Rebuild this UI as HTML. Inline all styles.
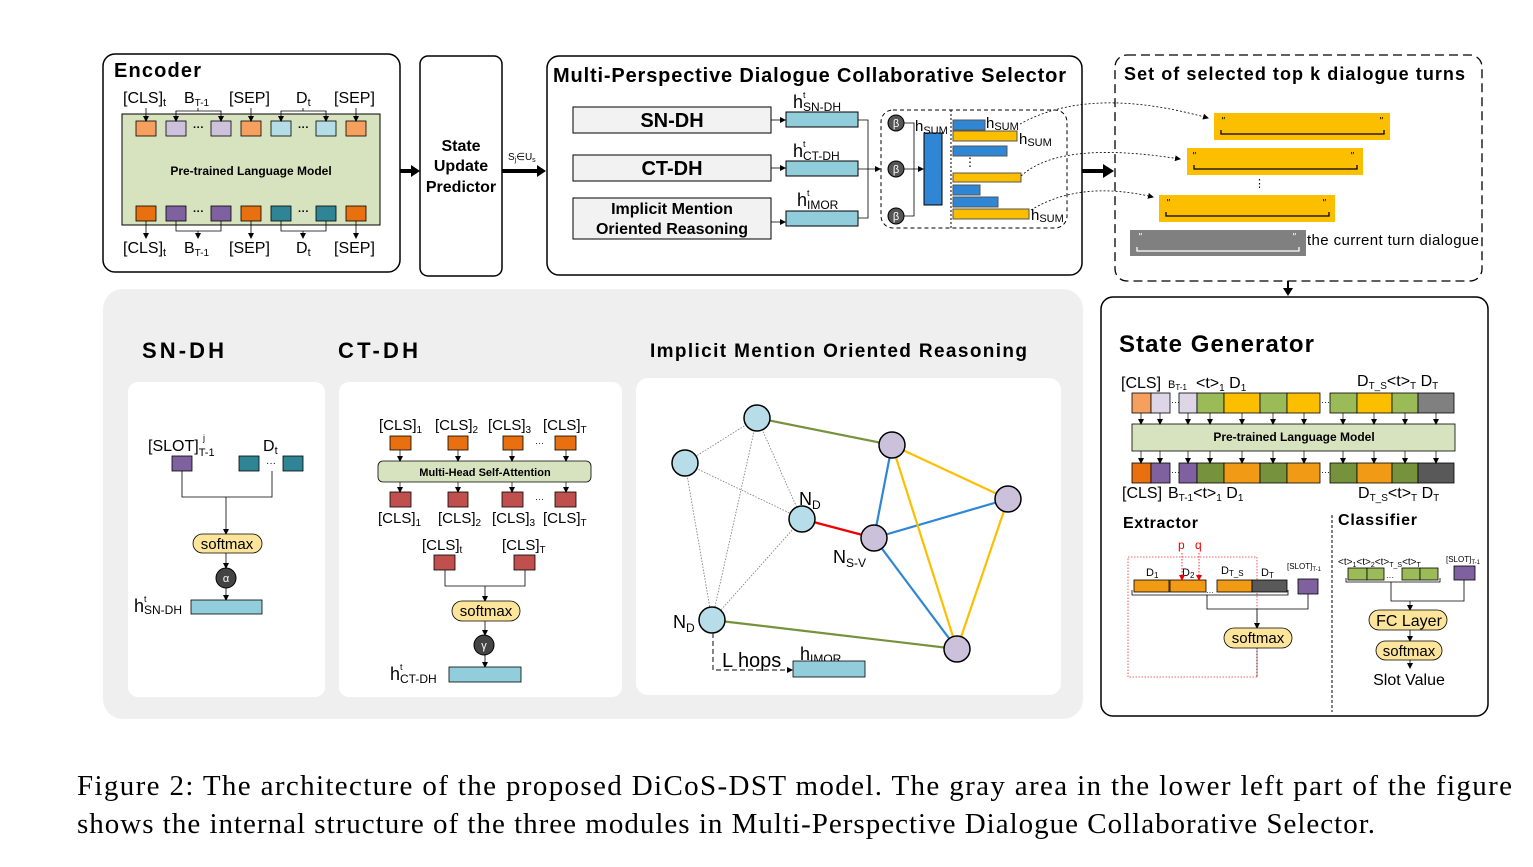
<!DOCTYPE html>
<html><head><meta charset="utf-8"><style>
html,body{margin:0;padding:0;background:#fff;}
svg{display:block;font-family:"Liberation Sans",Arial,sans-serif;}
.b{font-weight:bold;}
</style></head><body>
<svg width="1533" height="867" viewBox="0 0 1533 867" xmlns="http://www.w3.org/2000/svg">
<defs>
<marker id="a" markerWidth="6" markerHeight="6" refX="5" refY="3" orient="auto" markerUnits="userSpaceOnUse"><path d="M0,0 L6,3 L0,6z" fill="#000"/></marker>
<marker id="ar" markerWidth="6" markerHeight="6" refX="5" refY="3" orient="auto" markerUnits="userSpaceOnUse"><path d="M0,0 L6,3 L0,6z" fill="#e00"/></marker>
</defs>

<!-- ENCODER -->
<rect x="103" y="54" width="297" height="218" rx="12" fill="#fff" stroke="#000" stroke-width="1.5"/>
<text x="114" y="77" font-size="20" class="b" textLength="87">Encoder</text>
<g font-size="16">
<text x="123" y="103">[CLS]<tspan font-size="11" dy="3">t</tspan></text>
<text x="184" y="103">B<tspan font-size="10" dy="3">T-1</tspan></text>
<text x="229" y="103">[SEP]</text>
<text x="296" y="103">D<tspan font-size="11" dy="3">t</tspan></text>
<text x="334" y="103">[SEP]</text>
<text x="123" y="253">[CLS]<tspan font-size="11" dy="3">t</tspan></text>
<text x="184" y="253">B<tspan font-size="10" dy="3">T-1</tspan></text>
<text x="229" y="253">[SEP]</text>
<text x="296" y="253">D<tspan font-size="11" dy="3">t</tspan></text>
<text x="334" y="253">[SEP]</text>
</g>
<rect x="122" y="114" width="258" height="111" fill="#d7e3bf" stroke="#000"/>
<text x="251" y="175" font-size="12" class="b" text-anchor="middle">Pre-trained Language Model</text>
<g stroke="#000" stroke-width="0.8">
<rect x="136" y="121" width="20" height="15" fill="#f5a05f"/>
<rect x="166" y="121" width="20" height="15" fill="#cdc1dc"/>
<rect x="211" y="121" width="20" height="15" fill="#cdc1dc"/>
<rect x="241" y="121" width="20" height="15" fill="#f5a05f"/>
<rect x="271" y="121" width="20" height="15" fill="#b5dde7"/>
<rect x="316" y="121" width="20" height="15" fill="#b5dde7"/>
<rect x="346" y="121" width="20" height="15" fill="#f5a05f"/>
<rect x="136" y="206" width="20" height="15" fill="#e8700f"/>
<rect x="166" y="206" width="20" height="15" fill="#7e619e"/>
<rect x="211" y="206" width="20" height="15" fill="#7e619e"/>
<rect x="241" y="206" width="20" height="15" fill="#e8700f"/>
<rect x="271" y="206" width="20" height="15" fill="#2f8596"/>
<rect x="316" y="206" width="20" height="15" fill="#2f8596"/>
<rect x="346" y="206" width="20" height="15" fill="#e8700f"/>
</g>
<g font-size="11" class="b"><text x="193" y="131">···</text><text x="298" y="131">···</text><text x="193" y="215">···</text><text x="298" y="215">···</text></g>
<g stroke="#000" stroke-width="0.8" fill="none" marker-end="url(#a)">
<path d="M146,108 V121"/><path d="M251,108 V121"/><path d="M356,108 V121"/>
<path d="M176,111 V121"/><path d="M221,111 V121"/>
<path d="M281,111 V121"/><path d="M326,111 V121"/>
<path d="M146,221 V238"/><path d="M251,221 V238"/><path d="M356,221 V238"/>
<path d="M198,231 V238"/><path d="M303,231 V238"/>
</g>
<g stroke="#000" stroke-width="0.8" fill="none">
<path d="M176,112 V111 H221 V112"/><path d="M198,108 V111"/>
<path d="M281,112 V111 H326 V112"/><path d="M303,108 V111"/>
<path d="M176,221 V231 H221 V221"/><path d="M281,221 V231 H326 V221"/>
</g>

<path d="M400,171 H412" stroke="#000" stroke-width="4"/><path d="M411,165 L420,171 L411,177z"/>
<rect x="420" y="56" width="82" height="220" rx="8" fill="#fff" stroke="#000" stroke-width="1.5"/>
<g font-size="16" class="b" text-anchor="middle"><text x="461" y="151">State</text><text x="461" y="171">Update</text><text x="461" y="192">Predictor</text></g>
<path d="M502,171 H538" stroke="#000" stroke-width="4"/><path d="M537,165 L546,171 L537,177z"/>
<text x="508" y="160" font-size="10">S<tspan font-size="7" dy="2">j</tspan><tspan dy="-2">∈U</tspan><tspan font-size="7" dy="2">s</tspan></text>

<!-- MPDCS -->
<rect x="547" y="56" width="535" height="219" rx="12" fill="#fff" stroke="#000" stroke-width="1.5"/>
<text x="553" y="82" font-size="20" class="b" textLength="513">Multi-Perspective Dialogue Collaborative Selector</text>
<g stroke="#000" fill="#f2f2f2">
<rect x="573" y="107" width="198" height="26"/><rect x="573" y="155" width="198" height="26"/><rect x="573" y="198" width="198" height="41"/>
</g>
<g class="b" text-anchor="middle"><text x="672" y="127" font-size="20">SN-DH</text><text x="672" y="175" font-size="20">CT-DH</text>
<text x="672" y="214" font-size="16">Implicit Mention</text><text x="672" y="234" font-size="16">Oriented Reasoning</text></g>
<g stroke="#000" fill="#92cddc"><rect x="786" y="112" width="72" height="15"/><rect x="786" y="161" width="72" height="15"/><rect x="786" y="211" width="72" height="15"/></g>
<g stroke="#000" fill="none" stroke-width="0.8">
<path d="M771,120 H785" marker-end="url(#a)"/><path d="M771,168 H785" marker-end="url(#a)"/><path d="M771,222 H785" marker-end="url(#a)"/>
<path d="M858,120 H868 V218 H858"/><path d="M858,169 H880" marker-end="url(#a)"/>
</g>
<g font-size="18"><text x="793" y="108">h<tspan font-size="12" dy="3">SN-DH</tspan></text><text x="793" y="157">h<tspan font-size="12" dy="3">CT-DH</tspan></text><text x="797" y="206">h<tspan font-size="12" dy="3">IMOR</tspan></text></g>
<g font-size="9"><text x="803" y="98">t</text><text x="803" y="147">t</text><text x="807" y="196">t</text></g>
<rect x="881" y="110" width="186" height="118" rx="12" fill="none" stroke="#000" stroke-dasharray="4,3"/>
<path d="M951,110 V228" stroke="#000" stroke-dasharray="2,2"/>
<g fill="#555" stroke="#000"><circle cx="896" cy="123" r="8"/><circle cx="896" cy="169" r="8"/><circle cx="896" cy="216" r="8"/></g>
<g fill="#fff" font-size="11" text-anchor="middle"><text x="896" y="127">β</text><text x="896" y="173">β</text><text x="896" y="220">β</text></g>
<g stroke="#000" fill="none" stroke-width="0.8"><path d="M904,123 H914 V216 H904"/><path d="M904,169 H923" marker-end="url(#a)"/></g>
<rect x="924" y="133" width="18" height="72" fill="#2e86d4" stroke="#000"/>
<text x="915" y="131" font-size="15">h<tspan font-size="11" dy="3">SUM</tspan></text>
<g stroke="#555">
<rect x="953" y="120" width="32" height="10" fill="#2e86d4"/>
<rect x="953" y="131" width="64" height="10" fill="#fcbf00"/>
<rect x="953" y="146" width="54" height="10" fill="#2e86d4"/>
<rect x="953" y="173" width="68" height="9" fill="#fcbf00"/>
<rect x="953" y="185" width="27" height="10" fill="#2e86d4"/>
<rect x="953" y="197" width="45" height="10" fill="#2e86d4"/>
<rect x="953" y="209" width="76" height="10" fill="#fcbf00"/>
</g>
<text x="964" y="166" font-size="12">⋮</text>
<g font-size="15"><text x="986" y="128">h<tspan font-size="11" dy="2">SUM</tspan></text><text x="1019" y="144">h<tspan font-size="11" dy="2">SUM</tspan></text><text x="1031" y="220">h<tspan font-size="11" dy="2">SUM</tspan></text></g>
<g stroke="#000" fill="none" stroke-dasharray="2,2" stroke-width="0.8" marker-end="url(#a)">
<path d="M1020,124 Q1090,85 1208,118"/><path d="M1021,176 Q1060,140 1180,159"/><path d="M1031,210 Q1080,180 1153,197"/>
</g>
<path d="M1082,171 H1104" stroke="#000" stroke-width="4"/><path d="M1103,164 L1114,171 L1103,178z"/>

<!-- selected set -->
<rect x="1115" y="55" width="367" height="226" rx="12" fill="none" stroke="#000" stroke-width="1.3" stroke-dasharray="9,5"/>
<text x="1124" y="80" font-size="18" class="b" textLength="341">Set of selected top k dialogue turns</text>
<g fill="#fcbf00"><rect x="1214" y="113" width="176" height="27"/><rect x="1187" y="148" width="176" height="27"/><rect x="1159" y="195" width="176" height="27"/></g>
<rect x="1130" y="230" width="176" height="26" fill="#808080"/>
<g stroke="#000" fill="none" stroke-width="1.3"><path d="M1221,130 V134 H1384 V130"/><path d="M1194,165 V169 H1357 V165"/><path d="M1166,212 V216 H1329 V212"/></g>
<path d="M1137,247 V251 H1299 V247" stroke="#fff" fill="none" stroke-width="1.3"/>
<g font-size="10" font-style="italic"><text x="1221" y="124">"</text><text x="1379" y="124">"</text><text x="1192" y="159">"</text><text x="1350" y="159">"</text><text x="1166" y="206">"</text><text x="1322" y="206">"</text><text x="1138" y="240" fill="#fff">"</text><text x="1292" y="240" fill="#fff">"</text></g>
<text x="1254" y="187" font-size="11">⋮</text>
<text x="1307" y="245" font-size="15" textLength="172">the current turn dialogue</text>
<path d="M1288,281 V290" stroke="#000" stroke-width="2"/><path d="M1283,288 L1288,296 L1293,288z"/>

<!-- STATE GENERATOR -->
<rect x="1101" y="297" width="387" height="419" rx="12" fill="#fff" stroke="#000" stroke-width="1.5"/>
<text x="1119" y="352" font-size="24" class="b" textLength="195">State Generator</text>
<g font-size="16"><text x="1121" y="388">[CLS]</text><text x="1168" y="388" font-size="11">B<tspan font-size="8" dy="2">T-1</tspan></text><text x="1196" y="388">&lt;t&gt;<tspan font-size="10" dy="3">1</tspan><tspan dy="-3"> D</tspan><tspan font-size="10" dy="3">1</tspan></text>
<text x="1357" y="386">D<tspan font-size="10" dy="3">T_S</tspan><tspan dy="-3">&lt;t&gt;</tspan><tspan font-size="10" dy="3">T</tspan><tspan dy="-3"> D</tspan><tspan font-size="10" dy="3">T</tspan></text>
<text x="1122" y="498">[CLS]</text><text x="1168" y="498">B<tspan font-size="10" dy="3">T-1</tspan><tspan dy="-3">&lt;t&gt;</tspan><tspan font-size="10" dy="3">1</tspan><tspan dy="-3"> D</tspan><tspan font-size="10" dy="3">1</tspan></text>
<text x="1358" y="498">D<tspan font-size="10" dy="3">T_S</tspan><tspan dy="-3">&lt;t&gt;</tspan><tspan font-size="10" dy="3">T</tspan><tspan dy="-3"> D</tspan><tspan font-size="10" dy="3">T</tspan></text></g>
<g stroke="#000" stroke-width="0.8">
<rect x="1132" y="393" width="19" height="20" fill="#f5a05f"/><rect x="1151" y="393" width="19" height="20" fill="#dcd6e6"/><rect x="1179" y="393" width="18" height="20" fill="#dcd6e6"/>
<rect x="1197" y="393" width="27" height="20" fill="#9bbb59"/><rect x="1224" y="393" width="36" height="20" fill="#fcbf00"/><rect x="1260" y="393" width="27" height="20" fill="#9bbb59"/><rect x="1287" y="393" width="33" height="20" fill="#fcbf00"/>
<rect x="1330" y="393" width="27" height="20" fill="#9bbb59"/><rect x="1357" y="393" width="35" height="20" fill="#fcbf00"/><rect x="1392" y="393" width="26" height="20" fill="#9bbb59"/><rect x="1418" y="393" width="36" height="20" fill="#808080"/>
<rect x="1132" y="424" width="323" height="27" fill="#d7e3bf"/>
<rect x="1132" y="463" width="19" height="20" fill="#e8700f"/><rect x="1151" y="463" width="19" height="20" fill="#7e619e"/><rect x="1179" y="463" width="18" height="20" fill="#7e619e"/>
<rect x="1197" y="463" width="27" height="20" fill="#76923c"/><rect x="1224" y="463" width="36" height="20" fill="#f09a16"/><rect x="1260" y="463" width="27" height="20" fill="#76923c"/><rect x="1287" y="463" width="33" height="20" fill="#f09a16"/>
<rect x="1330" y="463" width="27" height="20" fill="#76923c"/><rect x="1357" y="463" width="35" height="20" fill="#f09a16"/><rect x="1392" y="463" width="26" height="20" fill="#76923c"/><rect x="1418" y="463" width="36" height="20" fill="#595959"/>
</g>
<text x="1294" y="441" font-size="12" class="b" text-anchor="middle">Pre-trained Language Model</text>
<g font-size="9"><text x="1171" y="405">···</text><text x="1321" y="405">···</text><text x="1171" y="475">···</text><text x="1321" y="475">···</text></g>
<g stroke="#000" stroke-width="0.7" marker-end="url(#a)">
<path d="M1141,413 V424"/><path d="M1160,413 V424"/><path d="M1188,413 V424"/><path d="M1210,413 V424"/><path d="M1242,413 V424"/><path d="M1273,413 V424"/><path d="M1304,413 V424"/><path d="M1343,413 V424"/><path d="M1374,413 V424"/><path d="M1405,413 V424"/><path d="M1436,413 V424"/>
<path d="M1141,451 V463"/><path d="M1160,451 V463"/><path d="M1188,451 V463"/><path d="M1210,451 V463"/><path d="M1242,451 V463"/><path d="M1273,451 V463"/><path d="M1304,451 V463"/><path d="M1343,451 V463"/><path d="M1374,451 V463"/><path d="M1405,451 V463"/><path d="M1436,451 V463"/>
</g>
<text x="1123" y="528" font-size="16" class="b" textLength="75">Extractor</text>
<text x="1338" y="525" font-size="16" class="b" textLength="79">Classifier</text>
<path d="M1332,515 V712" stroke="#000" stroke-dasharray="3,2"/>
<rect x="1128" y="557" width="129" height="120" fill="none" stroke="#e33" stroke-dasharray="1.5,1.5" stroke-width="0.8"/>
<g stroke="#000" stroke-width="0.8"><rect x="1134" y="580" width="35" height="12" fill="#f09a16"/><rect x="1170" y="580" width="36" height="12" fill="#f09a16"/><rect x="1217" y="580" width="35" height="12" fill="#f09a16"/><rect x="1252" y="580" width="35" height="12" fill="#595959"/><rect x="1298" y="579" width="20" height="15" fill="#7e619e"/></g>
<g font-size="11"><text x="1146" y="576">D<tspan font-size="8" dy="2">1</tspan></text><text x="1182" y="576">D<tspan font-size="8" dy="2">2</tspan></text><text x="1221" y="574">D<tspan font-size="8" dy="2">T_S</tspan></text><text x="1261" y="576">D<tspan font-size="8" dy="2">T</tspan></text><text x="1287" y="569" font-size="8">[SLOT]<tspan font-size="6" dy="2">T-1</tspan></text><text x="1206" y="595" font-size="8">···</text></g>
<g font-size="12" fill="#e00"><text x="1178" y="549">p</text><text x="1195" y="549">q</text></g>
<g stroke="#e00" stroke-width="0.8" stroke-dasharray="1.5,1.5" marker-end="url(#ar)"><path d="M1182,553 V580"/><path d="M1199,553 V580"/></g>
<g stroke="#000" stroke-width="0.8" fill="none"><path d="M1132,590 V595 H1288 V590"/><path d="M1207,595 V609 H1308 V594"/><path d="M1257,609 V628" marker-end="url(#a)"/><path d="M1257,648 V677" stroke-dasharray="1.5,1.5"/></g>
<rect x="1224" y="628" width="68" height="20" rx="10" fill="#fde49b" stroke="#000" stroke-width="0.8"/>
<text x="1258" y="643" font-size="15" text-anchor="middle">softmax</text>
<g stroke="#000" stroke-width="0.8"><rect x="1348" y="568" width="19" height="12" fill="#9bbb59"/><rect x="1367" y="568" width="17" height="12" fill="#9bbb59"/><rect x="1402" y="568" width="18" height="12" fill="#9bbb59"/><rect x="1420" y="568" width="18" height="12" fill="#9bbb59"/><rect x="1454" y="566" width="21" height="14" fill="#7e619e"/></g>
<text x="1338" y="565" font-size="10">&lt;t&gt;<tspan font-size="7" dy="2">1</tspan><tspan dy="-2">&lt;t&gt;</tspan><tspan font-size="7" dy="2">2</tspan><tspan dy="-2">&lt;t&gt;</tspan><tspan font-size="7" dy="2">T_S</tspan><tspan dy="-2">&lt;t&gt;</tspan><tspan font-size="7" dy="2">T</tspan></text>
<text x="1446" y="562" font-size="8">[SLOT]<tspan font-size="6" dy="2">T-1</tspan></text>
<text x="1386" y="580" font-size="8">···</text>
<g stroke="#000" stroke-width="0.8" fill="none"><path d="M1346,578 V582 H1440 V578"/><path d="M1391,582 V601 H1464 V580"/><path d="M1410,601 V610" marker-end="url(#a)"/><path d="M1410,630 V641" marker-end="url(#a)"/><path d="M1410,660 V668" marker-end="url(#a)"/></g>
<rect x="1369" y="610" width="78" height="20" rx="10" fill="#fde49b" stroke="#000" stroke-width="0.8"/>
<text x="1409" y="626" font-size="16" text-anchor="middle">FC Layer</text>
<rect x="1376" y="641" width="66" height="19" rx="9.5" fill="#fde49b" stroke="#000" stroke-width="0.8"/>
<text x="1409" y="656" font-size="15" text-anchor="middle">softmax</text>
<text x="1409" y="685" font-size="16" text-anchor="middle">Slot Value</text>

<!-- GRAY AREA -->
<rect x="103" y="289" width="980" height="430" rx="20" fill="#efefef"/>
<g class="b"><text x="142" y="358" font-size="22" textLength="82">SN-DH</text><text x="338" y="358" font-size="22" textLength="80">CT-DH</text><text x="650" y="357" font-size="19" textLength="377">Implicit Mention Oriented Reasoning</text></g>
<rect x="128" y="382" width="197" height="315" rx="10" fill="#fff"/>
<rect x="339" y="382" width="283" height="315" rx="10" fill="#fff"/>
<rect x="636" y="378" width="425" height="317" rx="12" fill="#fff"/>

<text x="148" y="451" font-size="16">[SLOT]<tspan font-size="11" dy="5">T-1</tspan></text>
<text x="203" y="441" font-size="9">j</text>
<text x="263" y="451" font-size="16">D<tspan font-size="11" dy="3">t</tspan></text>
<g stroke="#000" stroke-width="0.8"><rect x="172" y="456" width="20" height="15" fill="#7e619e"/><rect x="239" y="456" width="20" height="15" fill="#2f8596"/><rect x="283" y="456" width="20" height="15" fill="#2f8596"/></g>
<text x="266" y="466" font-size="10">···</text>
<g stroke="#000" stroke-width="0.8" fill="none"><path d="M182,471 V497 H272 V471"/><path d="M226,497 V534" marker-end="url(#a)"/><path d="M226,553 V568" marker-end="url(#a)"/><path d="M226,588 V600" marker-end="url(#a)"/></g>
<rect x="193" y="534" width="69" height="19" rx="9.5" fill="#fde49b" stroke="#000" stroke-width="0.8"/>
<text x="227" y="549" font-size="15" text-anchor="middle">softmax</text>
<circle cx="226" cy="578" r="10" fill="#444" stroke="#000"/><text x="226" y="582" font-size="11" fill="#fff" text-anchor="middle">α</text>
<rect x="191" y="600" width="71" height="14" fill="#92cddc" stroke="#000" stroke-width="0.8"/>
<text x="134" y="612" font-size="18">h<tspan font-size="12" dy="2">SN-DH</tspan></text>
<text x="144" y="602" font-size="9">t</text>

<g font-size="15"><text x="379" y="430">[CLS]<tspan font-size="10" dy="3">1</tspan></text><text x="435" y="430">[CLS]<tspan font-size="10" dy="3">2</tspan></text><text x="488" y="430">[CLS]<tspan font-size="10" dy="3">3</tspan></text><text x="543" y="430">[CLS]<tspan font-size="10" dy="3">T</tspan></text>
<text x="378" y="523">[CLS]<tspan font-size="10" dy="3">1</tspan></text><text x="438" y="523">[CLS]<tspan font-size="10" dy="3">2</tspan></text><text x="492" y="523">[CLS]<tspan font-size="10" dy="3">3</tspan></text><text x="543" y="523">[CLS]<tspan font-size="10" dy="3">T</tspan></text>
<text x="422" y="550">[CLS]<tspan font-size="10" dy="3">t</tspan></text><text x="502" y="550">[CLS]<tspan font-size="10" dy="3">T</tspan></text></g>
<g stroke="#000" stroke-width="0.8">
<rect x="390" y="436" width="21" height="14" fill="#e8700f"/><rect x="448" y="436" width="20" height="14" fill="#e8700f"/><rect x="503" y="436" width="20" height="14" fill="#e8700f"/><rect x="555" y="436" width="21" height="14" fill="#e8700f"/>
<rect x="390" y="492" width="21" height="15" fill="#c0504d"/><rect x="448" y="492" width="20" height="15" fill="#c0504d"/><rect x="502" y="492" width="21" height="15" fill="#c0504d"/><rect x="555" y="492" width="21" height="15" fill="#c0504d"/>
<rect x="434" y="555" width="21" height="15" fill="#c0504d"/><rect x="514" y="555" width="21" height="15" fill="#c0504d"/>
</g>
<rect x="378" y="461" width="213" height="21" rx="5" fill="#d7e3bf" stroke="#000" stroke-width="0.8"/>
<text x="485" y="476" font-size="11" class="b" text-anchor="middle">Multi-Head Self-Attention</text>
<g font-size="9"><text x="535" y="446">···</text><text x="535" y="502">···</text></g>
<g stroke="#000" stroke-width="0.7" marker-end="url(#a)">
<path d="M400,450 V461"/><path d="M458,450 V461"/><path d="M512,450 V461"/><path d="M566,450 V461"/>
<path d="M400,482 V492"/><path d="M458,482 V492"/><path d="M512,482 V492"/><path d="M566,482 V492"/>
</g>
<g stroke="#000" stroke-width="0.8" fill="none"><path d="M445,570 V586 H525 V570"/><path d="M485,586 V601" marker-end="url(#a)"/><path d="M485,621 V635" marker-end="url(#a)"/><path d="M485,655 V667" marker-end="url(#a)"/></g>
<rect x="452" y="601" width="68" height="20" rx="10" fill="#fde49b" stroke="#000" stroke-width="0.8"/>
<text x="486" y="616" font-size="15" text-anchor="middle">softmax</text>
<circle cx="484" cy="645" r="10" fill="#444" stroke="#000"/><text x="484" y="649" font-size="11" fill="#fff" text-anchor="middle">γ</text>
<rect x="449" y="667" width="72" height="15" fill="#92cddc" stroke="#000" stroke-width="0.8"/>
<text x="390" y="680" font-size="18">h<tspan font-size="12" dy="3">CT-DH</tspan></text>
<text x="400" y="670" font-size="9">t</text>

<g stroke="#777" stroke-width="0.8" stroke-dasharray="1.5,1.5">
<path d="M757,418 L685,463"/><path d="M757,418 L802,519"/><path d="M757,418 L712,620"/><path d="M685,463 L802,519"/><path d="M685,463 L712,620"/><path d="M802,519 L712,620"/>
</g>
<g stroke-width="2.2">
<path d="M757,418 L892,445" stroke="#76923c"/><path d="M712,620 L957,649" stroke="#76923c"/>
<path d="M802,519 L874,538" stroke="#e00"/>
<path d="M892,445 L874,538" stroke="#2e86d4"/><path d="M874,538 L1008,499" stroke="#2e86d4"/><path d="M874,538 L957,649" stroke="#2e86d4"/>
<path d="M892,445 L1008,499" stroke="#fcbf00"/><path d="M892,445 L957,649" stroke="#fcbf00"/><path d="M1008,499 L957,649" stroke="#fcbf00"/>
</g>
<g stroke="#000" stroke-width="1.5">
<circle cx="757" cy="418" r="13" fill="#b7dde8"/><circle cx="685" cy="463" r="13" fill="#b7dde8"/><circle cx="802" cy="519" r="13" fill="#b7dde8"/><circle cx="712" cy="620" r="13" fill="#b7dde8"/>
<circle cx="892" cy="445" r="13" fill="#ccc1da"/><circle cx="1008" cy="499" r="13" fill="#ccc1da"/><circle cx="874" cy="538" r="13" fill="#ccc1da"/><circle cx="957" cy="649" r="13" fill="#ccc1da"/>
</g>
<g font-size="18"><text x="799" y="505">N<tspan font-size="12" dy="4">D</tspan></text><text x="833" y="563">N<tspan font-size="12" dy="4">S-V</tspan></text><text x="673" y="628">N<tspan font-size="12" dy="4">D</tspan></text></g>
<path d="M713,633 V670 H792" fill="none" stroke="#333" stroke-width="1.2" stroke-dasharray="5,3" marker-end="url(#a)"/>
<text x="722" y="667" font-size="20">L hops</text>
<text x="800" y="660" font-size="18">h<tspan font-size="12" dy="3">IMOR</tspan></text>
<rect x="793" y="661" width="72" height="16" fill="#92cddc" stroke="#000" stroke-width="0.8"/>

<g font-family="'Liberation Serif',serif" font-size="29">
<text x="77" y="795" textLength="1435" lengthAdjust="spacing">Figure 2: The architecture of the proposed DiCoS-DST model. The gray area in the lower left part of the figure</text>
<text x="77" y="833" textLength="1298" lengthAdjust="spacing">shows the internal structure of the three modules in Multi-Perspective Dialogue Collaborative Selector.</text>
</g>
</svg>
</body></html>
